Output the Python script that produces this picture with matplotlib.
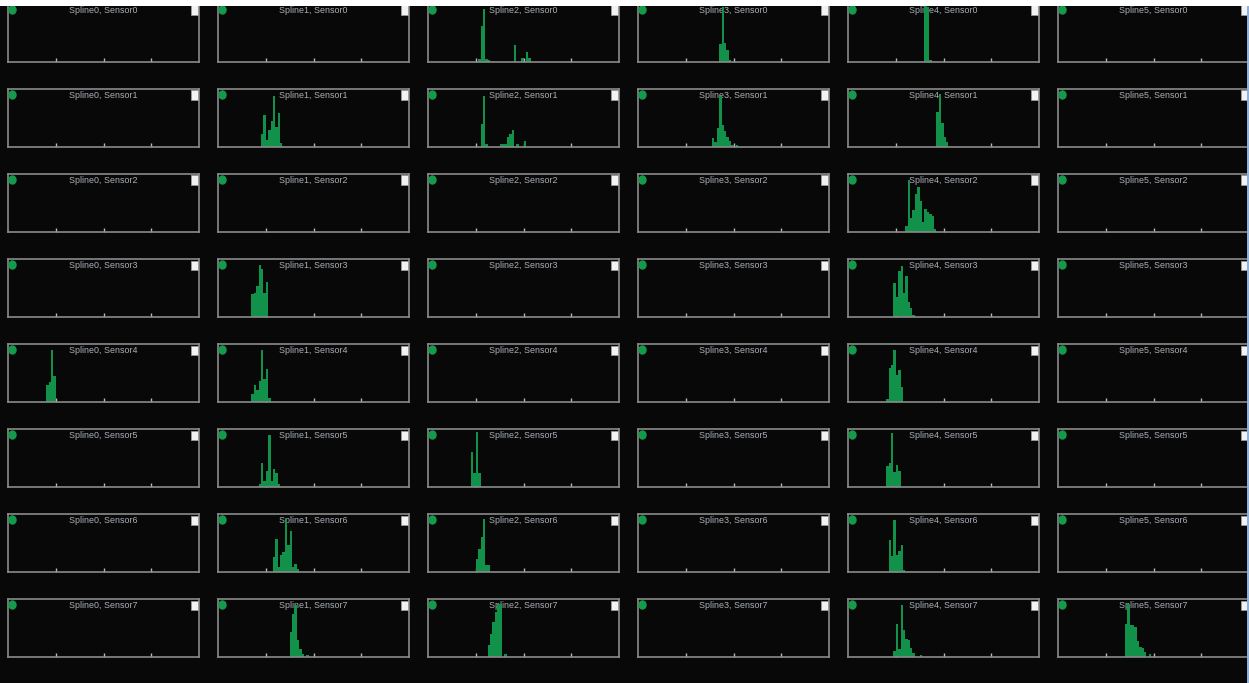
import numpy as np
import matplotlib
matplotlib.use("Agg")
import matplotlib.pyplot as plt
from matplotlib import font_manager
from matplotlib.patches import Rectangle, Ellipse

splines = ["Spline0", "Spline1", "Spline2", "Spline3", "Spline4", "Spline5"]
sensors = ["Sensor0", "Sensor1", "Sensor2", "Sensor3",
           "Sensor4", "Sensor5", "Sensor6", "Sensor7"]
bin_width = 0.05
tick_positions = [1, 2, 3]

# (spline, sensor) -> left edge of first bin
hist_start = {
    (2, 0): 1.05, (3, 0): 1.70, (4, 0): 1.60,
    (1, 1): 0.90, (2, 1): 1.10, (3, 1): 1.55, (4, 1): 1.85,
    (4, 2): 1.20,
    (1, 3): 0.70, (4, 3): 0.95,
    (0, 4): 0.80, (1, 4): 0.70, (4, 4): 0.80,
    (1, 5): 0.85, (2, 5): 0.90, (4, 5): 0.80,
    (1, 6): 1.15, (2, 6): 1.00, (4, 6): 0.85,
    (1, 7): 1.50, (2, 7): 1.25, (4, 7): 0.95, (5, 7): 1.40,
}
# (spline, sensor) -> bin counts
hist_counts = {
    (2, 0): [5, 62, 92, 5, 3, 0, 0, 0, 0, 0, 0, 0, 0, 0, 0, 30, 0, 0, 7, 0, 18, 7],
    (3, 0): [31, 94, 32, 21, 3],
    (4, 0): [98, 95, 4],
    (1, 1): [22, 56, 12, 30, 45, 88, 35, 59, 7],
    (2, 1): [39, 88, 5, 0, 0, 0, 0, 0, 5, 5, 5, 18, 22, 30, 0, 6, 0, 0, 10],
    (3, 1): [16, 8, 32, 88, 38, 28, 18, 11, 3, 0, 3],
    (4, 1): [60, 92, 42, 18, 9],
    (4, 2): [10, 89, 24, 38, 65, 78, 53, 18, 39, 35, 31, 28, 6],
    (1, 3): [40, 42, 53, 89, 83, 42, 60],
    (4, 3): [59, 35, 79, 88, 41, 71, 26, 15, 4],
    (0, 4): [30, 35, 90, 45],
    (1, 4): [13, 30, 20, 36, 90, 40, 57, 7],
    (4, 4): [5, 58, 63, 90, 46, 55, 26],
    (1, 5): [6, 42, 11, 27, 90, 11, 31, 24, 5],
    (2, 5): [60, 25, 94, 25],
    (4, 5): [36, 42, 93, 26, 38, 28],
    (1, 6): [26, 57, 9, 29, 35, 91, 47, 71, 9, 13, 6],
    (2, 6): [22, 40, 60, 91, 12, 12],
    (4, 6): [55, 27, 90, 30, 37, 47, 4],
    (1, 7): [43, 74, 89, 29, 14, 6, 0, 4],
    (2, 7): [20, 40, 60, 78, 92, 92, 0, 5],
    (4, 7): [11, 57, 14, 90, 47, 31, 30, 16, 7, 0, 0, 3],
    (5, 7): [57, 91, 56, 56, 52, 28, 18, 15, 8, 0, 5],
}

W, H = 1249, 683
bg = "#080808"
green = "#12914a"
names = {f.name for f in font_manager.fontManager.ttflist}
if "Liberation Sans Narrow" in names:
    title_font, title_size = "Liberation Sans Narrow", 7.2
else:
    title_font, title_size = "Liberation Sans", 6.4

fig = plt.figure(figsize=(W / 100, H / 100), dpi=100, facecolor=bg)


def fx(px):
    return px / W


def fy(py):
    return 1 - py / H


pw, ph = 191, 58
for si, sp in enumerate(splines):
    for ni, sn in enumerate(sensors):
        left = 8 + 210 * si
        top = 4 + 85 * ni
        ax = fig.add_axes([fx(left), fy(top + ph), pw / W, ph / H])
        ax.set_facecolor(bg)
        ax.set_xlim(0, 4)
        ax.set_ylim(0, 100)
        for s in ax.spines.values():
            s.set_color("#8a8a8a")
            s.set_linewidth(1.2)
        ax.set_xticks(tick_positions)
        ax.set_yticks([])
        ax.tick_params(axis="x", direction="in", length=3, width=1,
                       color="#b8b8b8", labelbottom=False)
        ax.text(0.5, 0.965, f"{sp}, {sn}", transform=ax.transAxes,
                ha="center", va="top", color="#aab0b7",
                fontsize=title_size, family=title_font, zorder=0.5)
        key = (si, ni)
        if key in hist_counts:
            vals = np.array(hist_counts[key], dtype=float)
            edges = hist_start[key] + bin_width * np.arange(len(vals) + 1)
            ax.stairs(vals, edges, fill=True, color=green, zorder=2)
        # green status dot
        fig.add_artist(Ellipse((fx(left + 4.5), fy(top + 6)), 7 / W, 8 / H,
                               transform=fig.transFigure, color="#159a4c",
                               zorder=5))
        # white box at the top right
        fig.add_artist(Rectangle((fx(left + pw - 8), fy(top + 10.5)),
                                 7 / W, 9 / H, transform=fig.transFigure,
                                 facecolor="#f2f2f2", edgecolor="#9a9a9a",
                                 linewidth=0.6, zorder=5))

# white strip at the top, thin blue edge on the right
fig.add_artist(Rectangle((0, fy(6)), 1, 6 / H, transform=fig.transFigure,
                         facecolor="white", edgecolor="none", zorder=10))
fig.add_artist(Rectangle((fx(1247), 0), 2 / W, fy(6), transform=fig.transFigure,
                         facecolor="#8fb0d8", edgecolor="none", zorder=10))

fig.savefig("out.png", dpi=100, facecolor=bg)
